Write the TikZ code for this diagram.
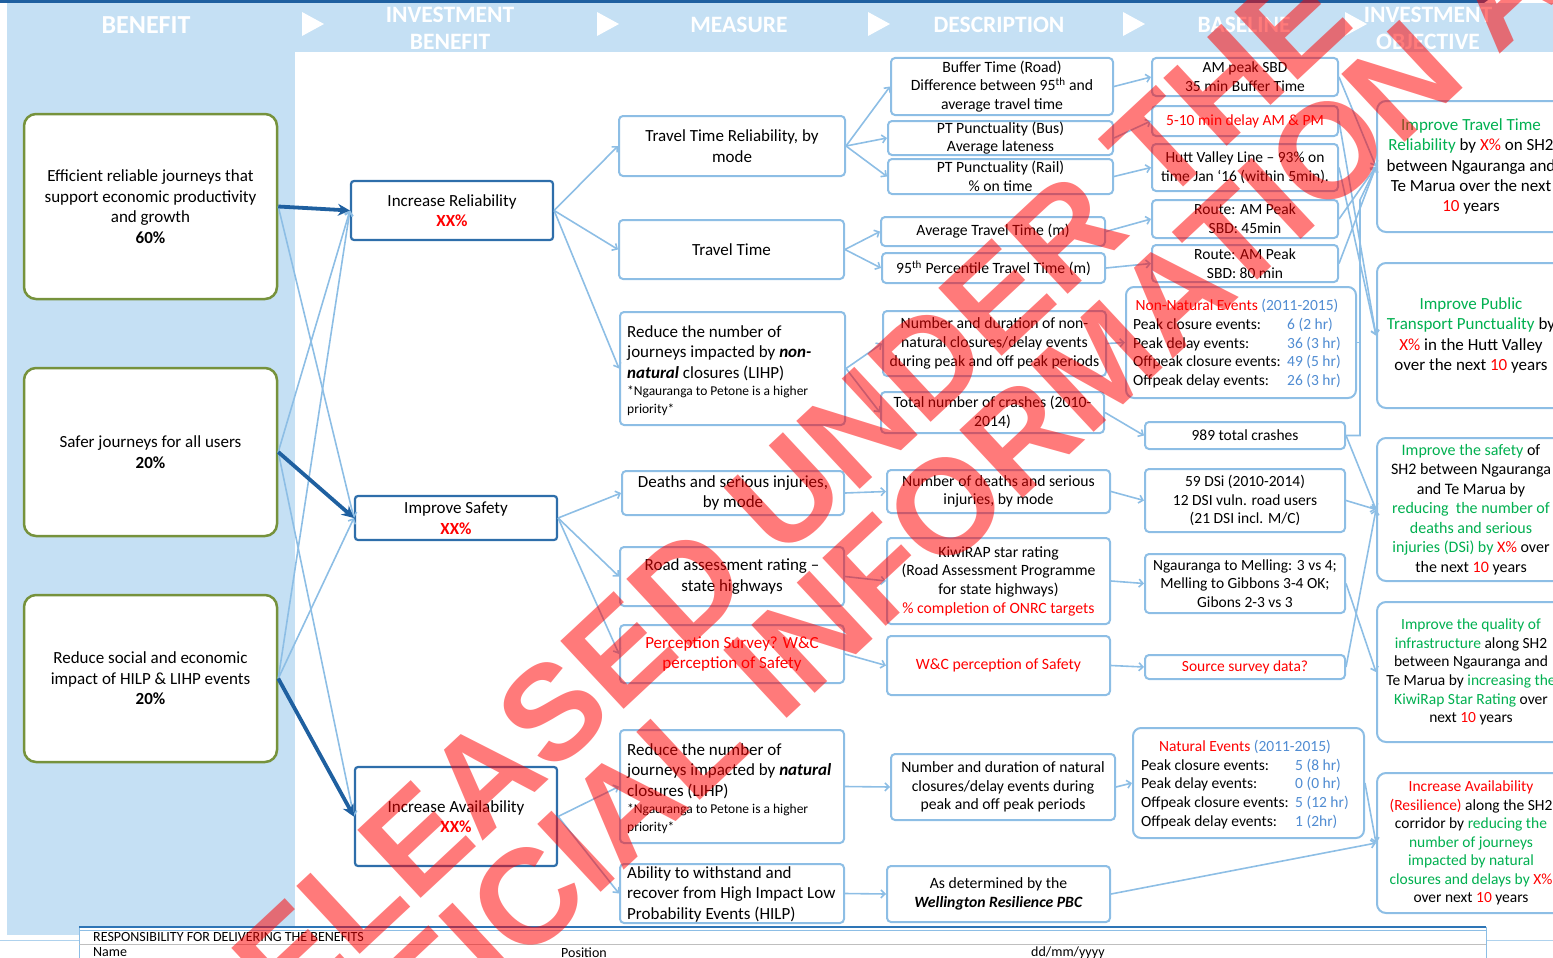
\documentclass[tikz,border=0pt]{standalone}
\usepackage{fontspec}
\setmainfont{Carlito}
\newfontfamily\wmfont{Liberation Sans}
\usetikzlibrary{arrows.meta}

\definecolor{hdrblue}{RGB}{197,224,244}
\definecolor{topbar}{RGB}{31,96,160}
\definecolor{ibblue}{RGB}{46,110,170}
\definecolor{lnblue}{RGB}{141,190,229}
\definecolor{olivegreen}{RGB}{118,146,60}
\definecolor{okgreen}{RGB}{0,176,80}
\definecolor{valblue}{RGB}{80,140,210}
\definecolor{tblline}{RGB}{46,117,182}

\newcommand{\setfs}[2]{\fontsize{#1}{#2}\selectfont}
\newcommand{\txtgreen}[1]{\textcolor{okgreen}{#1}}
\newcommand{\txtred}[1]{\textcolor{red}{#1}}
\newcommand{\txtval}[1]{\textcolor{valblue}{#1}}

\begin{document}
\begin{tikzpicture}[x=1pt,y=-1pt,
  benefitbox/.style={draw=olivegreen, line width=2.5pt, rounded corners=12pt, fill=white,
    align=center, inner sep=0pt, minimum width=253pt, font=\setfs{17}{20.5}},
  invbox/.style={draw=ibblue, line width=2.2pt, rounded corners=3pt, fill=white,
    align=center, inner sep=0pt, minimum width=202pt, font=\setfs{17}{20.5}},
  lbox/.style={draw=lnblue, line width=2pt, rounded corners=4pt, fill=white,
    align=center, inner sep=0pt},
  measbox/.style={lbox, font=\setfs{17}{20.5}},
  descbox/.style={lbox, font=\setfs{15.7}{18.7}},
  basebox/.style={lbox, font=\setfs{15.5}{18.7}},
  objbox/.style={lbox, rounded corners=9pt, minimum width=188pt},
  hdr/.style={text=white, align=center, inner sep=0pt, font=\bfseries\setfs{23.5}{27}},
  plain/.style={inner sep=0pt, align=left},
  link/.style={draw=lnblue, line width=1.6pt, -{Straight Barb[length=4pt,width=8pt]}},
  linkline/.style={draw=lnblue, line width=1.6pt},
  mainlink/.style={draw=topbar, line width=3.8pt, -{Stealth[length=12pt,width=12pt,inset=4pt]}},
  wm/.style={text=red, text opacity=0.52, inner sep=0pt,
    font=\wmfont\bfseries\fontsize{135}{135}\selectfont}
]
\useasboundingbox (0,0) rectangle (1553,958);
\clip (0,0) rectangle (1553,958);

% ---------- background bands ----------
\fill[hdrblue] (7,3) rectangle (1553,52);
\fill[hdrblue] (7,3) rectangle (295,935);
\fill[topbar] (0,0) -- (1488,0) -- (1484,3) -- (0,3) -- cycle;

% chevrons between the column titles
\foreach \cx in {302,597,868,1123,1345}
  \fill[white] (\cx,12) -- (\cx+22,24) -- (\cx,36) -- cycle;

% column titles
\node[hdr, font=\bfseries\setfs{26}{27}] (hBen) at (146,25) {BENEFIT};
\node[hdr] (hInvB) at (450,28.5) {INVESTMENT\\BENEFIT};
\node[hdr] (hMeas) at (739,25)   {MEASURE};
\node[hdr] (hDesc) at (999,25)   {DESCRIPTION};
\node[hdr] (hBase) at (1244,25)  {BASELINE};
\node[hdr] (hObj)  at (1428,28.5){INVESTMENT\\OBJECTIVE};

% ---------- benefits ----------
\node[benefitbox, minimum height=185pt] (L1) at (150.5,206.5)
  {Efficient reliable journeys that\\support economic productivity\\and growth\\\textbf{60\%}};
\node[benefitbox, minimum height=168pt] (L2) at (150.5,452)
  {Safer journeys for all users\\\textbf{20\%}};
\node[benefitbox, minimum height=167pt] (L3) at (150.5,678.5)
  {Reduce social and economic\\impact of HILP \& LIHP events\\\textbf{20\%}};

% ---------- investment benefits ----------
\node[invbox, minimum height=59pt] (IB1) at (452,210.5)
  {Increase Reliability\\\txtred{\textbf{XX\%}}};
\node[invbox, minimum height=44pt] (IB2) at (456,518)
  {Improve Safety\\\txtred{\textbf{XX\%}}};
\node[invbox, minimum height=99pt] (IB3) at (456,816.5)
  {Increase Availability\\\txtred{\textbf{XX\%}}};

% ---------- measures ----------
\node[measbox, minimum width=226pt, minimum height=60pt] (M1) at (732,146)
  {Travel Time Reliability, by\\mode};
\node[measbox, minimum width=225pt, minimum height=59pt] (M2) at (731.5,249.5)
  {Travel Time};
\node[measbox, minimum width=225pt, minimum height=113pt] (M3) at (732.5,368.5) {};
\node[plain, anchor=west] (M3t) at (627,371) {\setfs{17}{20.5}%
  \begin{tabular}{@{}l@{}}
  Reduce the number of\\
  journeys impacted by \textbf{\textit{non-}}\\
  \textbf{\textit{natural}} closures (LIHP)\\[-3pt]
  {\setfs{13.5}{16}*Ngauranga to Petone is a higher}\\[-3pt]
  {\setfs{13.5}{16}priority*}
  \end{tabular}};
\node[measbox, minimum width=222pt, minimum height=44pt] (M4) at (733,493)
  {Deaths and serious injuries,\\by mode};
\node[measbox, minimum width=224pt, minimum height=59pt] (M5) at (732,576.5)
  {Road assessment rating –\\state highways};
\node[measbox, minimum width=224pt, minimum height=58pt, text=red] (M6) at (732,654)
  {Perception Survey? W\&C\\perception of Safety};
\node[measbox, minimum width=224pt, minimum height=113pt] (M7) at (732,786.5) {};
\node[plain, anchor=west] (M7t) at (627,789) {\setfs{17}{20.5}%
  \begin{tabular}{@{}l@{}}
  Reduce the number of\\
  journeys impacted by \textbf{\textit{natural}}\\
  closures (LIHP)\\[-3pt]
  {\setfs{13.5}{16}*Ngauranga to Petone is a higher}\\[-3pt]
  {\setfs{13.5}{16}priority*}
  \end{tabular}};
\node[measbox, minimum width=224pt, minimum height=59pt] (M8) at (732,893.5) {};
\node[plain, anchor=west] (M8t) at (627,894.5) {\setfs{17}{20.5}%
  \begin{tabular}{@{}l@{}}
  Ability to withstand and\\
  recover from High Impact Low\\
  Probability Events (HILP)
  \end{tabular}};

% ---------- descriptions ----------
\node[descbox, minimum width=222pt, minimum height=57pt] (D1) at (1002,86.5)
  {Buffer Time (Road)\\Difference between 95\textsuperscript{th} and\\average travel time};
\node[descbox, minimum width=225pt, minimum height=34pt] (D2) at (1000.5,138)
  {PT Punctuality (Bus)\\Average lateness};
\node[descbox, minimum width=225pt, minimum height=35pt] (D3) at (1000.5,176.5)
  {PT Punctuality (Rail)\\\% on time};
\node[descbox, minimum width=224pt, minimum height=29pt] (D4) at (993,231.5)
  {Average Travel Time (m)};
\node[descbox, minimum width=223pt, minimum height=30pt] (D5) at (993.5,268)
  {95\textsuperscript{th} Percentile Travel Time (m)};
\node[descbox, minimum width=223pt, minimum height=65pt] (D6) at (994.5,343.5)
  {Number and duration of non-\\natural closures/delay events\\during peak and off peak periods};
\node[descbox, minimum width=223pt, minimum height=41pt] (D7) at (992.5,412.5)
  {Total number of crashes (2010-\\2014)};
\node[descbox, minimum width=223pt, minimum height=43pt] (D8) at (998.5,491.5)
  {Number of deaths and serious\\injuries, by mode};
\node[descbox, minimum width=223pt, minimum height=86pt] (D9) at (998.5,581)
  {KiwiRAP star rating\\(Road Assessment Programme\\for state highways)\\\txtred{\% completion of ONRC targets}};
\node[descbox, minimum width=223pt, minimum height=59pt, text=red] (D10) at (998.5,665.5)
  {W\&C perception of Safety};
\node[descbox, minimum width=224pt, minimum height=66pt] (D11) at (1003,787)
  {Number and duration of natural\\closures/delay events during\\peak and off peak periods};
\node[descbox, minimum width=223pt, minimum height=56pt] (D12) at (998.5,894)
  {As determined by the\\\textbf{\textit{Wellington Resilience PBC}}};

% ---------- baselines ----------
\node[basebox, minimum width=186pt, minimum height=38pt] (B1) at (1245,77)
  {AM peak SBD\\35 min Buffer Time};
\node[basebox, minimum width=186pt, minimum height=30pt, text=red] (B2) at (1245,121)
  {5-10 min delay AM \& PM};
\node[basebox, minimum width=186pt, minimum height=47pt] (B3) at (1245,167.5)
  {Hutt Valley Line – 93\% on\\time Jan ‘16 (within 5min).};
\node[basebox, minimum width=186pt, minimum height=38pt] (B4) at (1245,219)
  {Route: AM Peak\\SBD: 45min};
\node[basebox, minimum width=186pt, minimum height=37pt] (B5) at (1245,263.5)
  {Route: AM Peak\\SBD: 80 min};
\node[lbox, rounded corners=8pt, minimum width=230pt, minimum height=111pt] (B6) at (1241,342.5) {};
\node[plain, anchor=west] (B6t) at (1133,344.5) {\setfs{15.5}{18.7}%
  \begin{tabular}{@{}p{154pt}@{}l@{}}
  \multicolumn{2}{@{}c@{}}{\txtred{Non-Natural Events} \txtval{(2011-2015)}}\\
  Peak closure events: & \txtval{6 (2 hr)}\\
  Peak delay events: & \txtval{36 (3 hr)}\\
  Offpeak closure events: & \txtval{49 (5 hr)}\\
  Offpeak delay events: & \txtval{26 (3 hr)}
  \end{tabular}};
\node[basebox, minimum width=200pt, minimum height=27pt] (B7) at (1245,435.5)
  {989 total crashes};
\node[basebox, minimum width=200pt, minimum height=63pt] (B8) at (1245,500.5)
  {59 DSi (2010-2014)\\12 DSI vuln. road users\\(21 DSI incl. M/C)};
\node[basebox, minimum width=200pt, minimum height=59pt] (B9) at (1245,583.5)
  {Ngauranga to Melling: 3 vs 4;\\Melling to Gibbons 3-4 OK;\\Gibons 2-3 vs 3};
\node[basebox, minimum width=200pt, minimum height=24pt, text=red] (B10) at (1245,667)
  {Source survey data?};
\node[lbox, rounded corners=8pt, minimum width=231pt, minimum height=110pt] (B11) at (1248.5,783) {};
\node[plain, anchor=west] (B11t) at (1141,785) {\setfs{15.5}{18.7}%
  \begin{tabular}{@{}p{154pt}@{}l@{}}
  \multicolumn{2}{@{}c@{}}{\txtred{Natural Events} \txtval{(2011-2015)}}\\
  Peak closure events: & \txtval{5 (8 hr)}\\
  Peak delay events: & \txtval{0 (0 hr)}\\
  Offpeak closure events: & \txtval{5 (12 hr)}\\
  Offpeak delay events: & \txtval{1 (2hr)}
  \end{tabular}};

% ---------- investment objectives ----------
\node[objbox, minimum height=131pt, font=\setfs{17}{20.3}] (O1) at (1471,166.5)
  {\txtgreen{Improve Travel Time}\\\txtgreen{Reliability} by \txtred{X\%} on SH2\\between Ngauranga and\\Te Marua over the next\\\txtred{10} years};
\node[objbox, minimum height=145pt, font=\setfs{17}{20.3}] (O2) at (1471,335.5)
  {\txtgreen{Improve Public}\\\txtgreen{Transport Punctuality} by\\\txtred{X\%} in the Hutt Valley\\over the next \txtred{10} years};
\node[objbox, minimum height=143pt, font=\setfs{16}{19.5}] (O3) at (1471,509.5)
  {\txtgreen{Improve the safety} of\\SH2 between Ngauranga\\and Te Marua by\\\txtgreen{reducing\ \ the number of}\\\txtgreen{deaths and serious}\\\txtgreen{injuries (DSi) by} \txtred{X\%} over\\the next \txtred{10} years};
\node[objbox, minimum height=140pt, font=\setfs{15.5}{18.6}] (O4) at (1471,672)
  {\txtgreen{Improve the quality of}\\\txtgreen{infrastructure} along SH2\\between Ngauranga and\\Te Marua by \txtgreen{increasing the}\\\txtgreen{KiwiRap Star Rating} over\\next \txtred{10} years};
\node[objbox, minimum height=140pt, font=\setfs{15.5}{18.5}] (O5) at (1471,843)
  {\txtred{Increase Availability}\\\txtred{(Resilience)} along the SH2\\corridor by \txtgreen{reducing the}\\\txtgreen{number of journeys}\\\txtgreen{impacted by natural}\\\txtgreen{closures and delays by} \txtred{X\%}\\over next \txtred{10} years};

% ---------- connectors ----------
\draw[link] (L1.east) -- (IB2.west);
\draw[link] (L2.east) -- (IB1.west);
\draw[link] (L2.east) -- (IB3.west);
\draw[link] (L3.east) -- (IB1.west);
\draw[link] (L3.east) -- (IB2.west);
\draw[mainlink] (L1.east) -- (IB1.west);
\draw[mainlink] (L2.east) -- (IB2.west);
\draw[mainlink] (L3.east) -- (IB3.west);

\foreach \m in {M1,M2,M3} \draw[link] (IB1.east) -- (\m.west);
\foreach \m in {M4,M5,M6} \draw[link] (IB2.east) -- (\m.west);
\foreach \m in {M7,M8} \draw[link] (IB3.east) -- (\m.west);

\foreach \d in {D1,D2,D3} \draw[link] (M1.east) -- (\d.west);
\foreach \d in {D4,D5} \draw[link] (M2.east) -- (\d.west);
\foreach \d in {D6,D7} \draw[link] (M3.east) -- (\d.west);
\draw[link] (M4.east) -- (D8.west);
\draw[link] (M5.east) -- (D9.west);
\draw[link] (M6.east) -- (D10.west);
\draw[link] (M7.east) -- (D11.west);
\draw[link] (M8.east) -- (D12.west);

\draw[link] (D1.east) -- (B1.west);
\draw[link] (D2.east) -- (B2.west);
\draw[link] (D3.east) -- (B3.west);
\draw[link] (D4.east) -- (B4.west);
\draw[link] (D5.east) -- (B5.west);
\draw[link] (D6.east) -- (B6.west);
\draw[link] (D7.east) -- (B7.west);
\draw[link] (D8.east) -- (B8.west);
\draw[link] (D9.east) -- (B9.west);
\draw[link] (D10.east) -- (B10.west);
\draw[link] (D11.east) -- (B11.west);
\draw[link] (D12.east) -- (O5.west);

\coordinate (elbowLow) at (1360,435.5);
\coordinate (elbowMid) at (1360,342.5);
\coordinate (elbowTop) at (1360,200);
\draw[link] (B1.east) -- (O1.west);
\draw[link] (B4.east) -- (O1.west);
\draw[link] (B5.east) -- (O1.west);
\draw[link] (B2.east) -- (O2.west);
\draw[link] (B3.east) -- (O2.west);
\draw[link] (B7.east) -- (elbowLow) -- (elbowTop) -- (O1.west);
\draw[linkline] (B6.east) -- (elbowMid);
\draw[link] (B7.east) -- (O3.west);
\draw[link] (B8.east) -- (O3.west);
\draw[link] (B10.east) -- (O3.west);
\draw[link] (B9.east) -- (O4.west);
\draw[link] (B11.east) -- (O5.west);

% ---------- responsibility table ----------
\fill[white] (79,927) rectangle (1486,960);
\draw[lnblue!70, line width=0.8pt] (0,940) -- (79,940);
\draw[lnblue!70, line width=0.8pt] (1486,940) -- (1553,940);
\draw[lnblue, line width=1pt] (79,927) -- (79,960);
\draw[lnblue, line width=1pt] (1486,927) -- (1486,960);
\draw[tblline, line width=2pt] (79,927) -- (1486,927);
\draw[lnblue, line width=0.8pt] (79,930) -- (1486,930);
\draw[black!25, line width=0.6pt] (79,944) -- (1486,944);
\node[plain, anchor=west, font=\setfs{14}{16}] (tResp) at (93,936.5) {RESPONSIBILITY FOR DELIVERING THE BENEFITS};
\node[plain, anchor=west, font=\setfs{14}{16}] (tName) at (93,952.5) {Name};
\node[plain, anchor=west, font=\setfs{14}{16}] (tPos)  at (561,952.5) {Position};
\node[plain, anchor=west, font=\setfs{14}{16}] (tDate) at (1031,952.5) {dd/mm/yyyy};

% ---------- release stamp ----------
\node[wm, rotate=43] (wmA) at (755.6,522.6) {RELEASED UNDER THE};
\node[wm, rotate=43] (wmB) at (967.5,487) {OFFICIAL INFORMATION ACT};
\end{tikzpicture}
\end{document}
